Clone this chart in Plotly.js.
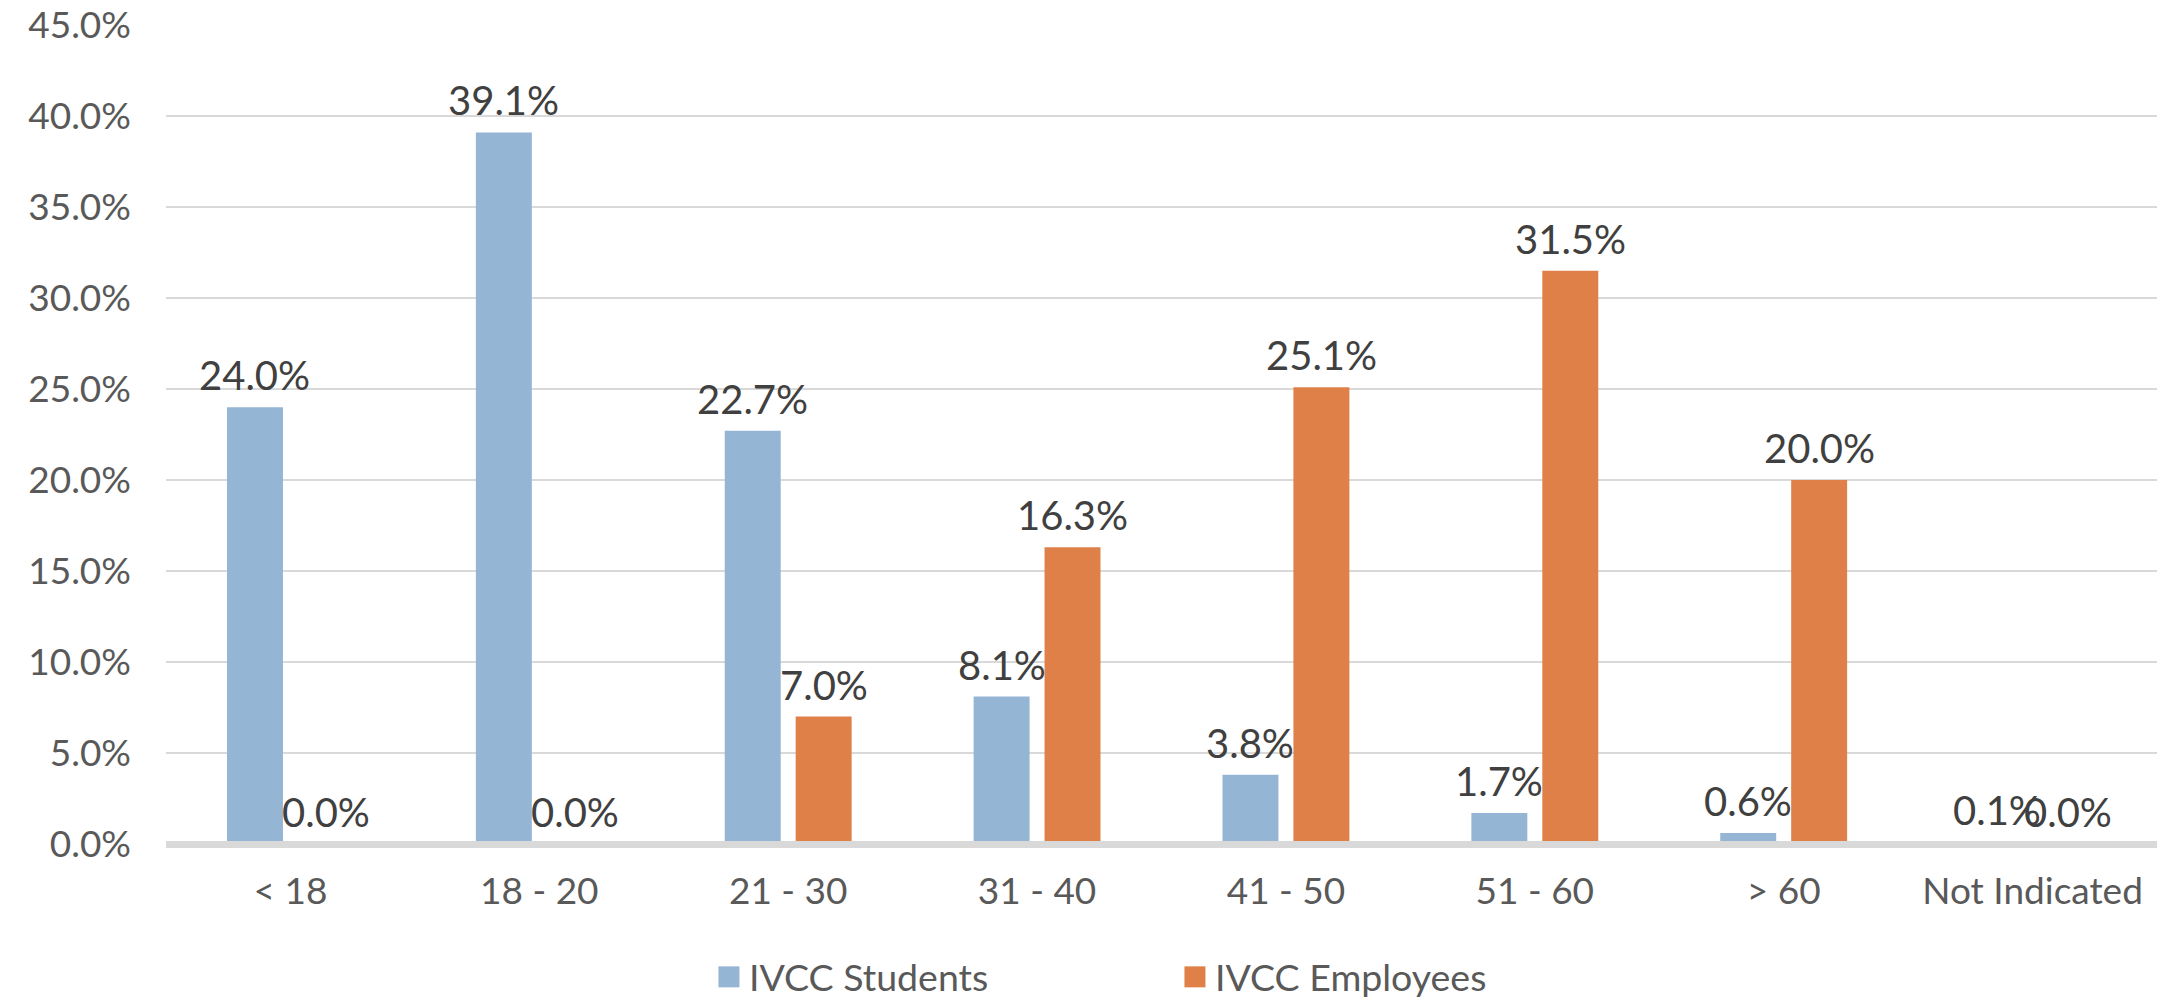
<!DOCTYPE html>
<html>
<head>
<meta charset="utf-8">
<script src="https://cdn.plot.ly/plotly-3.0.1.min.js"></script>
<style>
  html, body { margin: 0; padding: 0; background: #ffffff; }
  #chart { width: 2167px; height: 1001px; }
</style>
</head>
<body>
<div id="chart"></div>
<script>
// ---- data ----
const categories = ["< 18", "18 - 20", "21 - 30", "31 - 40", "41 - 50", "51 - 60", "> 60", "Not Indicated"];
const studentValues = [24.0, 39.1, 22.7, 8.1, 3.8, 1.7, 0.6, 0.1];
const employeeValues = [0.0, 0.0, 7.0, 16.3, 25.1, 31.5, 20.0, 0.0];
const seriesNames = ["IVCC Students", "IVCC Employees"];
const yTickValues = [0, 5, 10, 15, 20, 25, 30, 35, 40, 45];
const yTickLabels = ["0.0%", "5.0%", "10.0%", "15.0%", "20.0%", "25.0%", "30.0%", "35.0%", "40.0%", "45.0%"];

// ---- style ----
const FONT = "Lato, 'Open Sans', sans-serif";
const studentColor = "#95B5D5";
const employeeColor = "#DE8047";
const labelColor = "#404040";
const tickColor = "#595959";
const slotShift = 35.5;

const traces = [
  {
    type: "bar",
    name: seriesNames[0],
    x: categories,
    y: studentValues,
    marker: { color: studentColor },
    hoverinfo: "skip"
  },
  {
    type: "bar",
    name: seriesNames[1],
    x: categories,
    y: employeeValues,
    marker: { color: employeeColor },
    hoverinfo: "skip"
  }
];

const annotations = [];
function addLabels(values, shift) {
  values.forEach((v, i) => {
    annotations.push({
      x: categories[i],
      y: v,
      xref: "x",
      yref: "y",
      text: v.toFixed(1) + "%",
      showarrow: false,
      xanchor: "center",
      yanchor: "bottom",
      xshift: shift,
      yshift: 6,
      font: { family: FONT, size: 40, color: labelColor }
    });
  });
}
addLabels(studentValues, -slotShift);
addLabels(employeeValues, slotShift);

const layout = {
  width: 2167,
  height: 1001,
  paper_bgcolor: "#ffffff",
  plot_bgcolor: "#ffffff",
  margin: { l: 166, r: 10, t: 25, b: 157 },
  barmode: "group",
  bargap: 0.43,
  bargroupgap: 0.211,
  showlegend: true,
  legend: {
    orientation: "h",
    x: 0.2727,
    xanchor: "left",
    xref: "paper",
    y: 0.024,
    yref: "container",
    yanchor: "middle",
    entrywidth: 421,
    entrywidthmode: "pixels",
    font: { family: FONT, size: 37.5, color: tickColor },
    traceorder: "normal"
  },
  xaxis: {
    type: "category",
    showgrid: false,
    showline: false,
    ticks: "",
    ticklabelstandoff: 22,
    tickfont: { family: FONT, size: 37, color: tickColor },
    fixedrange: true
  },
  yaxis: {
    range: [0, 45],
    tickvals: yTickValues,
    ticktext: yTickLabels,
    showgrid: true,
    gridcolor: "#D9D9D9",
    gridwidth: 2,
    zeroline: true,
    zerolinecolor: "#D9D9D9",
    zerolinewidth: 7,
    zerolinelayer: "above traces",
    showline: false,
    ticks: "",
    ticklabelstandoff: 34,
    tickfont: { family: FONT, size: 37, color: tickColor },
    fixedrange: true
  },
  annotations: annotations
};

function enlargeLegendSymbols() {
  document.querySelectorAll("#chart g.legendpoints path").forEach(p => {
    p.setAttribute("d", "M10.5,10.5H-10.5V-10.5H10.5Z");
  });
}

const gd = document.getElementById("chart");
Plotly.newPlot(gd, traces, layout, { displayModeBar: false, staticPlot: true })
  .then(() => {
    enlargeLegendSymbols();
    gd.on("plotly_afterplot", enlargeLegendSymbols);
    setTimeout(enlargeLegendSymbols, 50);
    setTimeout(enlargeLegendSymbols, 300);
  });
</script>
</body>
</html>
